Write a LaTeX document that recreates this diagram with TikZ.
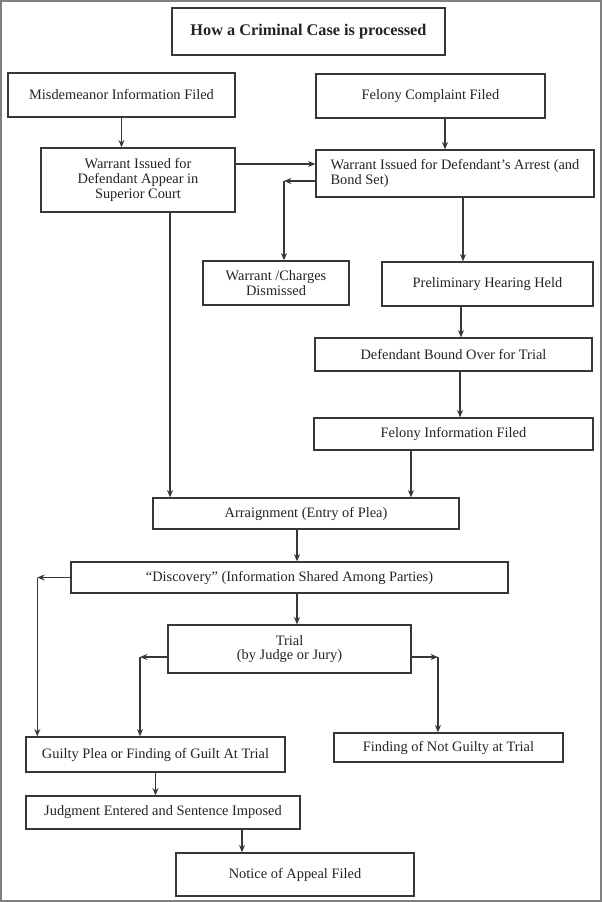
\documentclass[tikz,border=0pt]{standalone}
\usepackage{fontspec}
\setmainfont{Liberation Serif}
\usepackage{xcolor}
\usepackage{tikz}
\definecolor{caseline}{RGB}{55, 55, 55}
\definecolor{casetext}{RGB}{35, 35, 35}
\definecolor{caseframe}{RGB}{128, 128, 128}
\usetikzlibrary{arrows.meta,positioning}

\begin{document}
\begin{tikzpicture}[x=0.75pt, y=-0.75pt,
    box/.style={rectangle, draw=caseline, line width=1pt, inner sep=0pt, align=center, text=casetext, font=\fontsize{10.8}{11}\selectfont},
    flow/.style={->, line width=0.9pt, caseline},
    >={Stealth[length=5.5pt, width=4.5pt]}]
    \useasboundingbox (0,0) rectangle (602,902);
    \draw[caseframe, line width=1.5pt] (1,1) rectangle (600.5,900.5);

    % Title
    \node[box, minimum width=204.75pt, minimum height=35.25pt, font=\fontsize{12.2}{14}\selectfont\bfseries] (title) at (308.5,31.5) {How a Criminal Case is processed};

    % Filing boxes
    \node[box, minimum width=170.25pt, minimum height=33pt] (misd) at (121.5,95) {Misdemeanor Information Filed};
    \node[box, minimum width=171.75pt, minimum height=33pt] (felc) at (430.5,96) {Felony Complaint Filed};
    \node[box, minimum width=145.5pt, minimum height=48pt] (warl) at (138,180) {Warrant Issued for\\Defendant Appear in\\Superior Court};
    \node[box, minimum width=208.5pt, minimum height=35.25pt, align=left] (wara) at (455,173.5) {Warrant Issued for Defendant's Arrest (and\\Bond Set)};

    % Felony path
    \node[box, minimum width=109.5pt, minimum height=33pt] (dism) at (276,283) {Warrant /Charges\\Dismissed};
    \node[box, minimum width=158.25pt, minimum height=33pt] (prel) at (487.5,284) {Preliminary Hearing Held};
    \node[box, minimum width=207.75pt, minimum height=24.75pt] (bound) at (453.5,354.5) {Defendant Bound Over for Trial};
    \node[box, minimum width=209.25pt, minimum height=24pt] (feli) at (453.5,434) {Felony Information Filed};

    % Court boxes
    \node[box, minimum width=229.5pt, minimum height=23.25pt] (arr) at (306,513.5) {Arraignment (Entry of Plea)};
    \node[box, minimum width=327.75pt, minimum height=23.25pt] (disc) at (289.5,577.5) {``Discovery'' (Information Shared Among Parties)};
    \node[box, minimum width=182.25pt, minimum height=36pt] (trial) at (289.5,649) {Trial\\(by Judge or Jury)};
    \node[box, minimum width=194.25pt, minimum height=26.25pt] (guilty) at (155.5,754.5) {Guilty Plea or Finding of Guilt At Trial};
    \node[box, minimum width=171.75pt, minimum height=21.75pt] (notg) at (448.5,747.5) {Finding of Not Guilty at Trial};
    \node[box, minimum width=205.5pt, minimum height=24.75pt] (judg) at (163,812.5) {Judgment Entered and Sentence Imposed};
    \node[box, minimum width=178.5pt, minimum height=32.25pt] (notice) at (295,874.5) {Notice of Appeal Filed};

    % Arrows
    \draw[flow] (misd.south) -- (misd.south |- warl.north);
    \draw[flow] ([xshift=10.9pt]felc.south) -- ([xshift=10.9pt]felc.south |- wara.north);
    \draw[flow] ([yshift=12pt]warl.east) -- ([yshift=12pt]warl.east -| wara.west);
    \path ([yshift=-5.6pt]wara.west) coordinate (wdis);
    \draw[flow] (wdis) -- ([xshift=6pt]dism.north |- wdis) coordinate (cdis);
    \draw[flow] (cdis) -- (cdis |- dism.north);
    \draw[flow] ([xshift=6pt]wara.south) -- ([xshift=6pt]wara.south |- prel.north);
    \draw[flow] ([xshift=-19.9pt]prel.south) -- ([xshift=-19.9pt]prel.south |- bound.north);
    \draw[flow] ([xshift=4.9pt]bound.south) -- ([xshift=4.9pt]bound.south |- feli.north);
    \draw[flow] ([xshift=-31.9pt]feli.south) -- ([xshift=-31.9pt]feli.south |- arr.north);
    \draw[flow] ([xshift=24pt]warl.south) -- ([xshift=24pt]warl.south |- arr.north);
    \draw[flow] ([xshift=-6.75pt]arr.south) -- ([xshift=-6.75pt]arr.south |- disc.north);
    \draw[flow] ([xshift=5.6pt]disc.south) -- ([xshift=5.6pt]disc.south |- trial.north);
    \draw[flow] (disc.west) -- ([xshift=9pt]guilty.north west |- disc.west) coordinate (cdisc);
    \draw[flow] (cdisc) -- (cdisc |- guilty.north);
    \path ([yshift=-6pt]trial.west) coordinate (tl);
    \draw[flow] (tl) -- ([xshift=-11.6pt]guilty.north |- tl) coordinate (ctl);
    \draw[flow] (ctl) -- (ctl |- guilty.north);
    \path ([yshift=-6pt]trial.east) coordinate (tr);
    \draw[flow] (tr) -- ([xshift=-7.9pt]notg.north |- tr) coordinate (ctr);
    \draw[flow] (ctr) -- (ctr |- notg.north);
    \draw[flow] (guilty.south) -- (guilty.south |- judg.north);
    \draw[flow] ([xshift=59.25pt]judg.south) -- ([xshift=59.25pt]judg.south |- notice.north);
\end{tikzpicture}
\end{document}
